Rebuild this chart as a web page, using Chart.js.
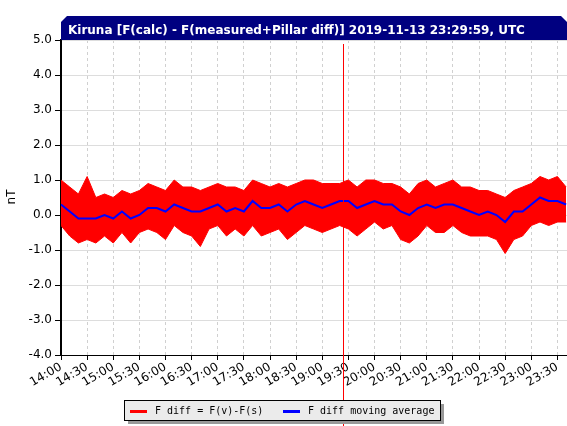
<!DOCTYPE html>
<html><head><meta charset="utf-8">
<script src="https://cdn.jsdelivr.net/npm/chart.js@4"></script>
<style>html,body{margin:0;background:#fff}#c{display:block}</style>
</head><body>
<canvas id="c" width="567" height="426"></canvas>
<script>
// minutes after 00:00, every 10 min from 14:00 to 23:40
const minutes = [840,850,860,870,880,890,900,910,920,930,940,950,960,970,980,990,1000,1010,1020,1030,1040,1050,1060,1070,1080,1090,1100,1110,1120,1130,1140,1150,1160,1170,1180,1190,1200,1210,1220,1230,1240,1250,1260,1270,1280,1290,1300,1310,1320,1330,1340,1350,1360,1370,1380,1390,1400,1410,1420];
const avgValues = [0.3,0.1,-0.1,-0.1,-0.1,0.0,-0.1,0.1,-0.1,0.0,0.2,0.2,0.1,0.3,0.2,0.1,0.1,0.2,0.3,0.1,0.2,0.1,0.4,0.2,0.2,0.3,0.1,0.3,0.4,0.3,0.2,0.3,0.4,0.4,0.2,0.3,0.4,0.3,0.3,0.1,0.0,0.2,0.3,0.2,0.3,0.3,0.2,0.1,0.0,0.1,0.0,-0.2,0.1,0.1,0.3,0.5,0.4,0.4,0.3];
const upperValues = [1.0,0.8,0.6,1.1,0.5,0.6,0.5,0.7,0.6,0.7,0.9,0.8,0.7,1.0,0.8,0.8,0.7,0.8,0.9,0.8,0.8,0.7,1.0,0.9,0.8,0.9,0.8,0.9,1.0,1.0,0.9,0.9,0.9,1.0,0.8,1.0,1.0,0.9,0.9,0.8,0.6,0.9,1.0,0.8,0.9,1.0,0.8,0.8,0.7,0.7,0.6,0.5,0.7,0.8,0.9,1.1,1.0,1.1,0.8];
const lowerValues = [-0.3,-0.6,-0.8,-0.7,-0.8,-0.6,-0.8,-0.5,-0.8,-0.5,-0.4,-0.5,-0.7,-0.3,-0.5,-0.6,-0.9,-0.4,-0.3,-0.6,-0.4,-0.6,-0.3,-0.6,-0.5,-0.4,-0.7,-0.5,-0.3,-0.4,-0.5,-0.4,-0.3,-0.4,-0.6,-0.4,-0.2,-0.4,-0.3,-0.7,-0.8,-0.6,-0.3,-0.5,-0.5,-0.3,-0.5,-0.6,-0.6,-0.6,-0.7,-1.1,-0.7,-0.6,-0.3,-0.2,-0.3,-0.2,-0.2];
const yTicks = [-4,-3,-2,-1,0,1,2,3,4,5];
const markerMinute = 1164;
const titleText = "Kiruna [F(calc) - F(measured+Pillar diff)] 2019-11-13 23:29:59, UTC";
const legendLabels = ["F diff = F(v)-F(s)", "F diff moving average"];

const pts = (vals) => vals.map((v, i) => ({ x: minutes[i], y: v }));
const hhmm = (m) => String(Math.floor(m / 60)).padStart(2, "0") + ":" + String(m % 60).padStart(2, "0");

const decor = {
  id: "decor",
  afterDraw(chart) {
    const ctx = chart.ctx, a = chart.chartArea, xs = chart.scales.x;
    ctx.save();
    // title bar
    ctx.fillStyle = "#000080";
    ctx.beginPath();
    ctx.moveTo(a.left, 22); ctx.lineTo(a.left + 6, 16); ctx.lineTo(a.right - 6, 16);
    ctx.lineTo(a.right, 22); ctx.lineTo(a.right, 40); ctx.lineTo(a.left, 40); ctx.closePath(); ctx.fill();
    ctx.fillStyle = "#fff"; ctx.font = "bold 12px 'DejaVu Sans'"; ctx.textBaseline = "middle";
    ctx.fillText(titleText, a.left + 7, 31);
    // marker line
    const mx = Math.round(xs.getPixelForValue(markerMinute));
    ctx.fillStyle = "#ff0000";
    ctx.fillRect(mx, 44, 1, 382);
    // nT label
    ctx.fillStyle = "#000"; ctx.font = "12px 'DejaVu Sans'";
    ctx.translate(12, 197); ctx.rotate(-Math.PI / 2); ctx.textAlign = "center";
    ctx.fillText("nT", 0, 0);
    ctx.restore();
    // legend
    ctx.save();
    const lx = 124, ly = 400, lw = 316, lh = 20;
    ctx.fillStyle = "#999"; ctx.fillRect(lx + 4, ly + 4, lw, lh);
    ctx.fillStyle = "#ebebeb"; ctx.fillRect(lx, ly, lw, lh);
    ctx.strokeStyle = "#000"; ctx.lineWidth = 1; ctx.strokeRect(lx + 0.5, ly + 0.5, lw, lh);
    ctx.fillStyle = "#ff0000"; ctx.fillRect(lx + 6, ly + 10, 17, 3);
    ctx.fillStyle = "#0000ff"; ctx.fillRect(lx + 159, ly + 10, 17, 3);
    ctx.font = "10px 'DejaVu Sans Mono'"; ctx.fillStyle = "#000"; ctx.textBaseline = "middle";
    ctx.fillText(legendLabels[0], lx + 31, ly + 11);
    ctx.fillText(legendLabels[1], lx + 184, ly + 11);
    ctx.restore();
  }
};

new Chart(document.getElementById("c"), {
  type: "line",
  data: {
    datasets: [
      { data: pts(avgValues), borderColor: "#0000ff", borderWidth: 2, pointRadius: 0, fill: false, order: 0 },
      { data: pts(upperValues), borderColor: "#ff0000", borderWidth: 1, pointRadius: 0, fill: false, order: 2 },
      { data: pts(lowerValues), borderColor: "#ff0000", borderWidth: 1, pointRadius: 0, fill: "-1", backgroundColor: "#ff0000", order: 1 }
    ]
  },
  options: {
    responsive: false, animation: false,
    layout: { padding: { top: 40, right: 0, left: 0, bottom: 0 } },
    plugins: { legend: { display: false }, tooltip: { enabled: false } },
    scales: {
      x: {
        type: "linear", min: 840, max: 1421,
        afterBuildTicks: (s) => { s.ticks = []; for (let m = 840; m <= 1410; m += 30) s.ticks.push({ value: m }); },
        afterFit: (s) => { s.height = 71; },
        ticks: { autoSkip: false, callback: (v) => hhmm(v), maxRotation: 30, minRotation: 30, color: "#000", font: { family: "DejaVu Sans", size: 12 }, padding: 0 },
        grid: { color: "#d0d0d0", drawTicks: true, tickLength: 5, tickColor: "#000" },
        border: { color: "#000", dash: [3, 3], display: true }
      },
      y: {
        min: -4, max: 5,
        afterBuildTicks: (s) => { s.ticks = yTicks.map((v) => ({ value: v })); },
        afterFit: (s) => { s.width = 61; },
        ticks: { callback: (v) => v.toFixed(1), color: "#000", font: { family: "DejaVu Sans", size: 12 } },
        grid: { color: "#dddddd", tickColor: "#000", tickLength: 6 },
        border: { color: "#000", width: 2 }
      }
    }
  },
  plugins: [decor]
});
</script>
</body></html>
